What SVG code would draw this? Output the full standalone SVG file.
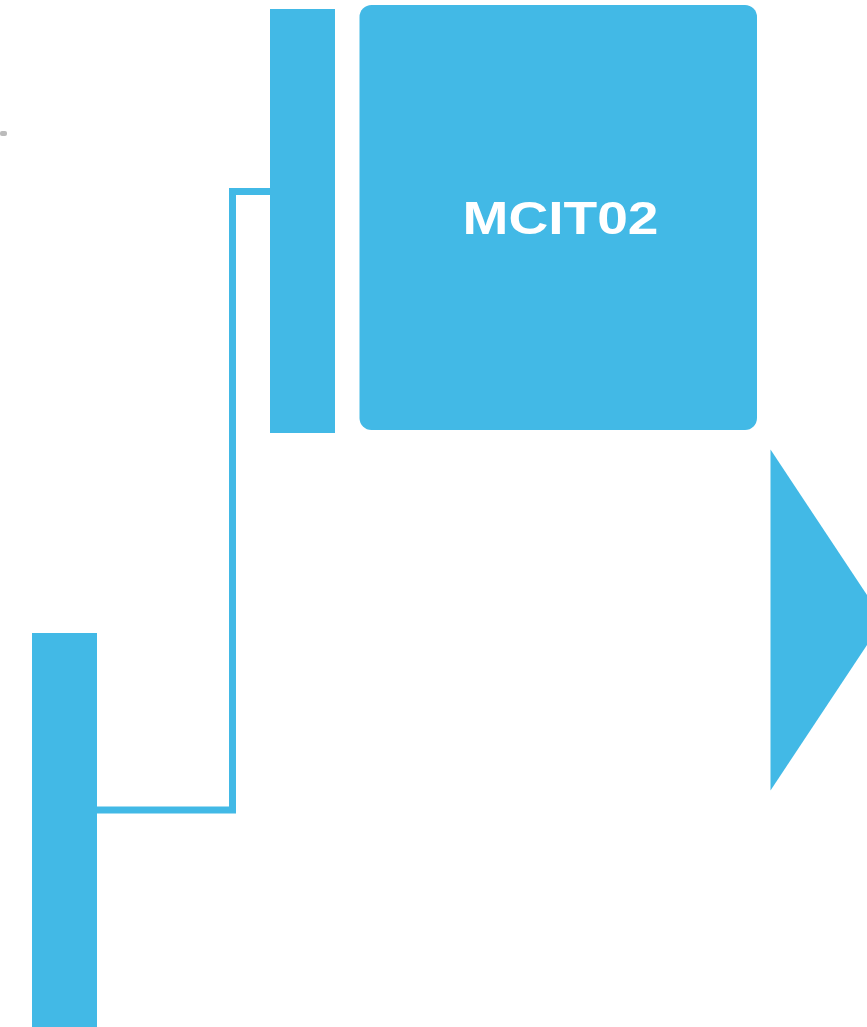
<svg xmlns="http://www.w3.org/2000/svg" width="867" height="1027" viewBox="0 0 867 1027">
<style>
.fill{fill:#42B9E6}
.conn{fill:none;stroke:#42B9E6;stroke-width:7}
.label{font-family:"Liberation Sans",Arial,sans-serif;font-weight:bold;font-size:46px;fill:#ffffff}
</style>
<rect width="867" height="1027" fill="#ffffff"/>
<rect x="0" y="131" width="7" height="5" rx="2" fill="#BBBBBB"/>
<g id="connectors">
<polyline class="conn" points="270,191.5 232.5,191.5 232.5,810 97,810"/>
</g>
<g id="bar-top">
<rect class="fill" x="270" y="9" width="65" height="424"/>
</g>
<g id="MCIT02">
<rect class="fill" x="359.5" y="5" width="397.5" height="425" rx="12"/>
<text class="label" x="560.5" y="234" text-anchor="middle" textLength="196" lengthAdjust="spacingAndGlyphs">MCIT02</text>
</g>
<g id="arrow">
<polygon class="fill" points="770.5,449.5 883.5,620 770.5,790.5"/>
</g>
<g id="bar-bottom">
<rect class="fill" x="32" y="633" width="65" height="394"/>
</g>
</svg>
